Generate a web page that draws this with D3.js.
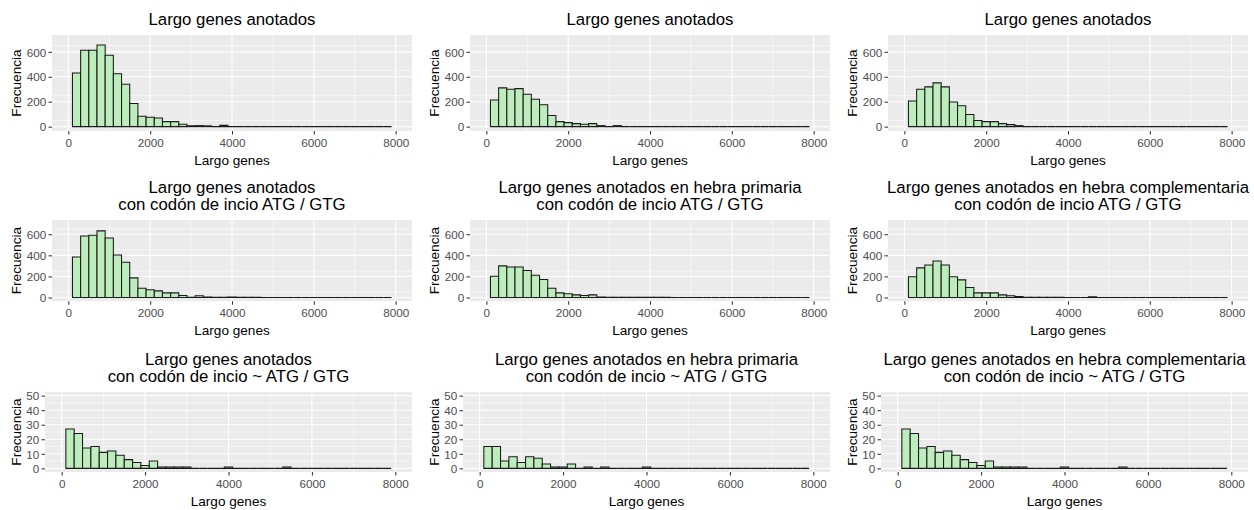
<!DOCTYPE html>
<html>
<head>
<meta charset="utf-8">
<script src="https://cdn.jsdelivr.net/npm/d3@7"></script>
<style>
  body { margin: 0; background: #fff; }
  text { font-family: "Liberation Sans", Arial, sans-serif; }
</style>
</head>
<body>
<svg id="chart" width="1254" height="510"></svg>
<script>
// ---------- data ----------
const binStart = 100;      // first bin left edge
const binWidth = 200;      // histogram bin width
const xTicks = [0, 2000, 4000, 6000, 8000];
const yTicksBig = [0, 200, 400, 600];
const yTicksSmall = [0, 10, 20, 30, 40, 50];
const xLabel = "Largo genes";
const yLabel = "Frecuencia";

const titles = [
  ["Largo genes anotados"],
  ["Largo genes anotados"],
  ["Largo genes anotados"],
  ["Largo genes anotados", "con codón de incio ATG / GTG"],
  ["Largo genes anotados en hebra primaria", "con codón de incio ATG / GTG"],
  ["Largo genes anotados en hebra complementaria", "con codón de incio ATG / GTG"],
  ["Largo genes anotados", "con codón de incio ~ ATG / GTG"],
  ["Largo genes anotados en hebra primaria", "con codón de incio ~ ATG / GTG"],
  ["Largo genes anotados en hebra complementaria", "con codón de incio ~ ATG / GTG"]
];

// counts per 200-wide bin, bins starting at 100 (39 bins: 100..7900)
const countsAll =   [430,613,613,654,573,424,340,186,84,76,70,40,40,19,7,8,6,0,10,0,0,0,0,0,0,0,0,0,0,0,0,0,0,0,0,0,0,0,0];
const countsPrim =  [213,311,300,305,259,219,176,89,40,32,24,19,24,8,0,8,0,0,0,0,0,0,0,0,0,0,0,0,0,0,0,0,0,0,0,0,0,0,0];
const countsComp =  [205,300,319,351,319,197,168,97,49,40,40,24,16,8,0,0,0,0,0,0,0,0,0,0,0,0,0,0,0,0,0,0,0,0,0,0,0,0,0];
const atgAll =      [385,584,590,632,565,404,335,186,88,73,63,44,44,19,3,16,4,3,3,4,2,3,2,0,0,0,0,0,0,0,0,0,0,0,0,0,0,0,0];
const atgPrim =     [202,300,290,290,256,212,171,88,44,35,25,19,25,4,3,3,2,3,2,2,3,2,0,0,0,0,0,0,0,0,0,0,0,0,0,0,0,0,0];
const atgComp =     [196,281,309,347,309,196,167,95,44,44,44,25,16,9,3,2,3,2,3,0,0,0,6,0,0,0,0,0,0,0,0,0,0,0,0,0,0,0,0];
const noAtgAll =    [27,24,14,15,11,12,9,6,4,2,5,1,1,1,1,0,0,0,0,1,0,0,0,0,0,0,1,0,0,0,0,0,0,0,0,0,0,0,0];
const noAtgPrim =   [15,15,5,8,4,8,7,3,1,1,3,0,1,0,1,0,0,0,0,1,0,0,0,0,0,0,0,0,0,0,0,0,0,0,0,0,0,0,0];
const noAtgComp =   [27,24,14,15,11,12,9,6,4,2,5,1,1,1,1,0,0,0,0,1,0,0,0,0,0,0,1,0,0,0,0,0,0,0,0,0,0,0,0];

const panelCounts = [countsAll, countsPrim, countsComp, atgAll, atgPrim, atgComp, noAtgAll, noAtgPrim, noAtgComp];

// ---------- layout ----------
const colOffsets = [0, 418, 836];
const rows = [
  { top: 35,  height: 96,   left: 52, yMax: 700, ticks: yTicksBig,   minorStep: 100 },
  { top: 220, height: 81.2, left: 52, yMax: 700, ticks: yTicksBig,   minorStep: 100 },
  { top: 392, height: 80,   left: 45, yMax: 50,  ticks: yTicksSmall, minorStep: 10 }
];
const panelRight = 412;

const svg = d3.select("#chart");

function drawPanel(idx) {
  const row = rows[Math.floor(idx / 3)];
  const ox = colOffsets[idx % 3];
  const counts = panelCounts[idx];
  const x = d3.scaleLinear().domain([-400, 8400]).range([ox + row.left, ox + panelRight]);
  const y = d3.scaleLinear().domain([-row.yMax * 0.05, row.yMax * 1.05])
              .range([row.top + row.height, row.top]);
  const g = svg.append("g");
  const x0 = x.range()[0], x1 = x.range()[1];
  const yb = y.range()[0], yt = y.range()[1];

  // panel background
  g.append("rect").attr("x", x0).attr("y", yt).attr("width", x1 - x0).attr("height", yb - yt)
    .attr("fill", "#EBEBEB");

  // minor grid
  const xMinor = [1000, 3000, 5000, 7000];
  const yMinor = row.ticks.map(t => t + row.minorStep / 2).filter(v => v < row.yMax * 1.05);
  g.selectAll(null).data(xMinor).enter().append("line")
    .attr("x1", d => x(d)).attr("x2", d => x(d)).attr("y1", yt).attr("y2", yb)
    .attr("stroke", "#fff").attr("stroke-width", 0.55);
  g.selectAll(null).data(yMinor).enter().append("line")
    .attr("y1", d => y(d)).attr("y2", d => y(d)).attr("x1", x0).attr("x2", x1)
    .attr("stroke", "#fff").attr("stroke-width", 0.55);
  // major grid
  g.selectAll(null).data(xTicks).enter().append("line")
    .attr("x1", d => x(d)).attr("x2", d => x(d)).attr("y1", yt).attr("y2", yb)
    .attr("stroke", "#fff").attr("stroke-width", 1.1);
  g.selectAll(null).data(row.ticks).enter().append("line")
    .attr("y1", d => y(d)).attr("y2", d => y(d)).attr("x1", x0).attr("x2", x1)
    .attr("stroke", "#fff").attr("stroke-width", 1.1);

  // clip
  const clipId = "clip" + idx;
  svg.append("clipPath").attr("id", clipId).append("rect")
    .attr("x", x0).attr("y", yt).attr("width", x1 - x0).attr("height", yb - yt);

  // bars (as closed paths so that empty bins still show their outline)
  const bins = counts.map((c, i) => ({ x0: binStart + i * binWidth, x1: binStart + (i + 1) * binWidth, c }));
  g.append("g").attr("clip-path", `url(#${clipId})`)
    .selectAll("path").data(bins).enter().append("path")
    .attr("d", d => `M${x(d.x0)},${y(0)}V${y(d.c)}H${x(d.x1)}V${y(0)}Z`)
    .attr("fill", "#BDECBD").attr("stroke", "#1a1a1a").attr("stroke-width", 1.05)
    .attr("stroke-linejoin", "miter");

  // axes
  const xAxis = d3.axisBottom(x).tickValues(xTicks).tickFormat(d3.format("d"))
    .tickSize(3.5).tickPadding(4.2);
  const gx = g.append("g").attr("transform", `translate(0,${yb})`).call(xAxis);
  const yAxis = d3.axisLeft(y).tickValues(row.ticks).tickFormat(d3.format("d"))
    .tickSize(3.5).tickPadding(2.2);
  const gy = g.append("g").attr("transform", `translate(${x0},0)`).call(yAxis);
  [gx, gy].forEach(a => {
    a.select(".domain").remove();
    a.selectAll(".tick line").attr("stroke", "#333333").attr("stroke-width", 1.05);
    a.selectAll(".tick text").attr("fill", "#4D4D4D").style("font-size", "11.7px")
      .style("font-family", '"Liberation Sans", Arial, sans-serif');
  });
  gy.selectAll(".tick text").attr("dy", "0.36em");

  // axis titles
  const cx = (x0 + x1) / 2;
  g.append("text").attr("x", cx).attr("y", yb + 33.5).attr("text-anchor", "middle")
    .style("font-size", "13.6px").attr("fill", "#000").text(xLabel);
  g.append("text").attr("transform", `translate(${ox + 20.5},${(yt + yb) / 2}) rotate(-90)`)
    .attr("text-anchor", "middle").style("font-size", "13.6px").attr("fill", "#000").text(yLabel);

  // title
  const lines = titles[idx];
  lines.forEach((t, i) => {
    g.append("text").attr("x", cx)
      .attr("y", yt - 9.8 - (lines.length - 1 - i) * 16.8)
      .attr("text-anchor", "middle").style("font-size", "16.8px").attr("fill", "#000").text(t);
  });
}

for (let i = 0; i < 9; i++) drawPanel(i);
</script>
</body>
</html>
